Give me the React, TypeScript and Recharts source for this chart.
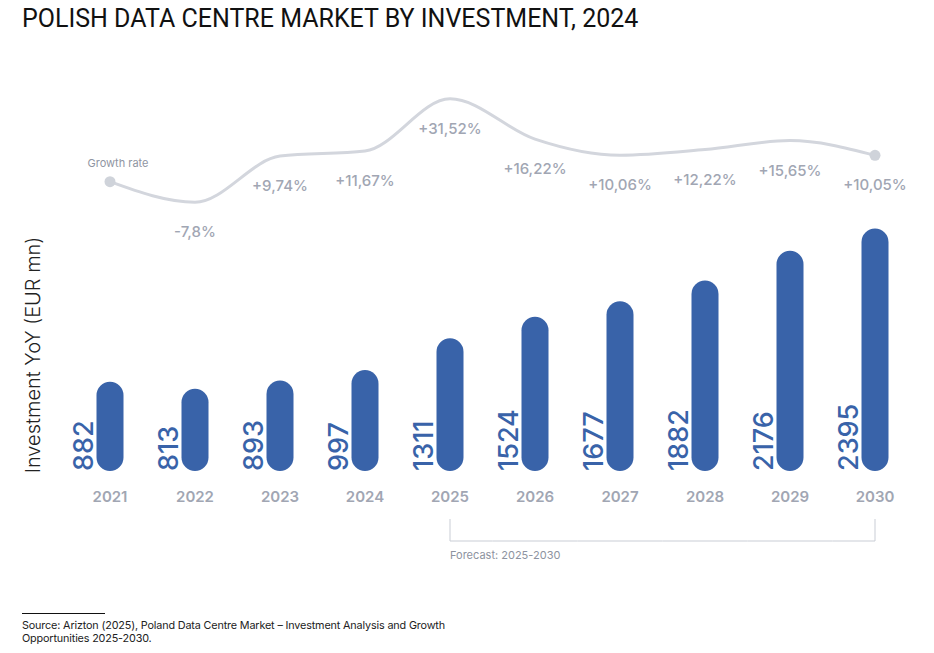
import React from 'react'
import { ComposedChart, Bar, Line, XAxis, YAxis, LabelList } from 'recharts'

const years = ['2021', '2022', '2023', '2024', '2025', '2026', '2027', '2028', '2029', '2030']
const investment = [882, 813, 893, 997, 1311, 1524, 1677, 1882, 2176, 2395]
// 2021 is the starting point of the curve, it carries no rate of its own
const growth = [0, -7.8, 9.74, 11.67, 31.52, 16.22, 10.06, 12.22, 15.65, 10.05]
const growthLabels = ['Growth rate', '-7,8%', '+9,74%', '+11,67%', '+31,52%', '+16,22%', '+10,06%', '+12,22%', '+15,65%', '+10,05%']
const forecastYears = ['2025', '2026', '2027', '2028', '2029', '2030']

const data = years.map((year, i) => ({
  year,
  investment: investment[i],
  growth: growth[i],
  label: growthLabels[i],
}))

const BLUE = '#3963a9'
const GREY = '#a1a6b3'
const FONT = 'Inter, "Noto Sans", sans-serif'
const BAND = 85

const YearTick = (props: any) => {
  const { x, y, payload } = props
  const year = payload.value
  const fi = forecastYears.indexOf(year)
  const by = y + 62
  return (
    <g>
      <text x={x} y={y + 23} textAnchor="middle" fill={GREY} fontSize={15} fontWeight={600} fontFamily={FONT}>
        {year}
      </text>
      {fi >= 0 && (
        <g stroke="#c9cdd5" strokeWidth={1}>
          <line
            x1={fi === 0 ? x : x - BAND / 2}
            x2={fi === forecastYears.length - 1 ? x : x + BAND / 2}
            y1={by}
            y2={by}
          />
          {(fi === 0 || fi === forecastYears.length - 1) && <line x1={x} x2={x} y1={by - 22} y2={by} />}
        </g>
      )}
      {fi === 0 && (
        <text x={x} y={by + 18} fill="#8d93a0" fontSize={11} fontFamily={FONT}>
          Forecast: {forecastYears[0]}-{forecastYears[forecastYears.length - 1]}
        </text>
      )}
    </g>
  )
}

const ValueLabel = (props: any) => {
  const { x, y, width, height, value } = props
  const tx = x + width / 2 - 17
  const ty = y + height
  return (
    <text
      x={tx}
      y={ty}
      transform={`rotate(-90, ${tx}, ${ty})`}
      textAnchor="start"
      fill={BLUE}
      fontSize={27}
      fontWeight={500}
      fontFamily={FONT}
    >
      {value}
    </text>
  )
}

const GrowthLabel = (props: any) => {
  const { x, y, value, index } = props
  if (index === 0) {
    return (
      <text x={x + 8} y={y - 15} textAnchor="middle" fill="#8f95a2" fontSize={11} fontFamily={FONT}>
        {value}
      </text>
    )
  }
  return (
    <text x={x} y={y + 35} textAnchor="middle" fill={GREY} fontSize={15} fontWeight={500} fontFamily={FONT}>
      {value}
    </text>
  )
}

const EndDot = (props: any) => {
  const { cx, cy, index } = props
  if (index !== 0 && index !== data.length - 1) return <g key={`d${index}`} />
  return <circle key={`d${index}`} cx={cx} cy={cy} r={5.5} fill="#cfd3da" />
}

export default function App() {
  return (
    <div style={{ position: 'absolute', left: 0, top: 0, width: 934, height: 653, background: '#fff', fontFamily: FONT }}>
      <div
        style={{
          position: 'absolute',
          left: 22,
          top: 4,
          fontFamily: 'Roboto, sans-serif',
          fontSize: 25,
          color: '#111',
          whiteSpace: 'nowrap',
        }}
      >
        POLISH DATA CENTRE MARKET BY INVESTMENT, 2024
      </div>
      <div
        style={{
          position: 'absolute',
          left: 33,
          top: 355,
          transform: 'translate(-50%, -50%) rotate(-90deg)',
          whiteSpace: 'nowrap',
          fontSize: 20,
          color: '#222',
          fontWeight: 300,
        }}
      >
        Investment YoY (EUR mn)
      </div>
      <div style={{ position: 'absolute', left: 0, top: 0 }}>
        <ComposedChart
          width={934}
          height={600}
          data={data}
          margin={{ top: 66, right: 16.5, left: 67.5, bottom: 29 }}
        >
          <XAxis dataKey="year" axisLine={false} tickLine={false} height={100} interval={0} tick={<YearTick />} />
          <YAxis yAxisId="bar" hide domain={[0, 4000]} />
          <YAxis yAxisId="line" hide orientation="right" domain={[-110, 44]} />
          <Bar yAxisId="bar" dataKey="investment" fill={BLUE} barSize={27} radius={13.5} isAnimationActive={false}>
            <LabelList dataKey="investment" content={<ValueLabel />} />
          </Bar>
          <Line
            yAxisId="line"
            type="monotone"
            dataKey="growth"
            stroke="#d3d6dd"
            strokeWidth={3}
            dot={EndDot}
            activeDot={false}
            isAnimationActive={false}
          >
            <LabelList dataKey="label" content={<GrowthLabel />} />
          </Line>
        </ComposedChart>
      </div>
      <div style={{ position: 'absolute', left: 22, top: 613, width: 83, borderTop: '1px solid #111' }} />
      <div
        style={{
          position: 'absolute',
          left: 22,
          top: 619,
          fontSize: 10.8,
          lineHeight: '13px',
          color: '#222',
          fontFamily: 'Inter, sans-serif',
          letterSpacing: -0.15,
        }}
      >
        Source: Arizton (2025), Poland Data Centre Market – Investment Analysis and Growth
        <br />
        Opportunities 2025-2030.
      </div>
    </div>
  )
}
